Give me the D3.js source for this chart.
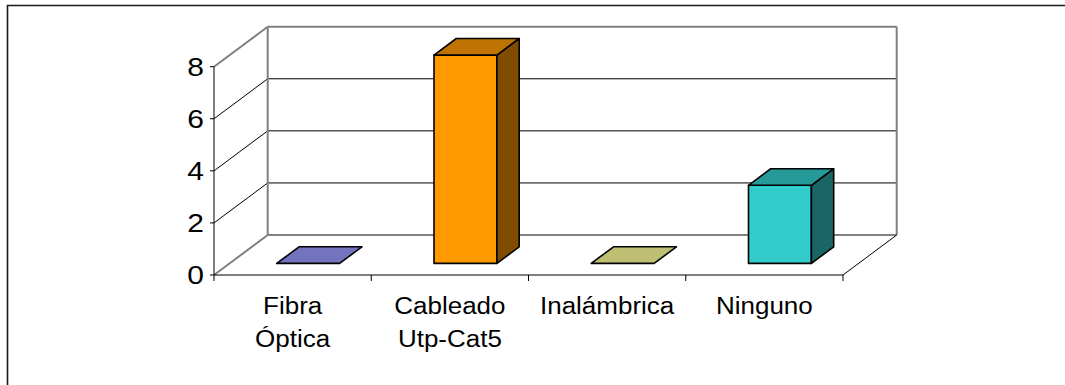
<!DOCTYPE html>
<html>
<head>
<meta charset="utf-8">
<script src="https://cdn.jsdelivr.net/npm/d3@7"></script>
<style>
  html, body { margin: 0; padding: 0; background: #fff; }
  svg { display: block; }
  text { font-family: "Liberation Sans", Arial, sans-serif; fill: #000; }
</style>
</head>
<body>
<svg id="chart" width="1065" height="385"></svg>
<script>
// Network type counts
const categories = [["Fibra", "Óptica"], ["Cableado", "Utp-Cat5"], ["Inalámbrica"], ["Ninguno"]];
const values = [0, 8, 0, 3];
const yTicks = [0, 2, 4, 6, 8];

// Bar face colours: front, top, side
const frontColors = ["#9999FF", "#FF9900", "#FFFF99", "#33CCCC"];
const topColors   = ["#7373BF", "#BF7300", "#BFBF73", "#269999"];
const sideColors  = ["#4D4D80", "#804D00", "#80804D", "#1A6666"];

const svg = d3.select("#chart");

// Front plane of the plot box
const x0 = 214, x1 = 843;
const yFront0 = 275, yFront8 = 66.7;
// Depth projection: full depth shifts right and up
const depthDX = 53.7, depthDY = -40;

const keys = categories.map(c => c.join(" "));
const x = d3.scaleBand().domain(keys).range([x0, x1]).paddingInner(0.6).paddingOuter(0.3);
const y = d3.scaleLinear().domain([0, 8]).range([yFront0, yFront8]);
const dx = d3.scaleLinear().domain([0, 1]).range([0, depthDX]);
const dy = d3.scaleLinear().domain([0, 1]).range([0, depthDY]);

// Project a point (px on front plane, value v, depth d)
const P = (px, v, d) => [px + dx(d), y(v) + dy(d)];
const pts = arr => arr.map(p => p.join(",")).join(" ");

const gray = "#808080";

// Outer frame
svg.append("path")
  .attr("d", "M7.5,390 L7.5,5.5 L1070,5.5")
  .attr("fill", "none").attr("stroke", "#1a1a1a").attr("stroke-width", 1.6);

const walls = svg.append("g");

// Back-wall and side-wall gridlines
yTicks.forEach(t => {
  const edge = (t === 0 || t === 8);
  const [bx, by] = P(x0, t, 1);
  const [ex] = P(x1, t, 1);
  // side wall diagonal
  walls.append("line")
    .attr("x1", x0).attr("y1", y(t)).attr("x2", bx).attr("y2", by)
    .attr("stroke", edge ? gray : "#000").attr("stroke-width", edge ? 2 : 1);
  // back wall horizontal
  walls.append("line")
    .attr("x1", bx).attr("y1", by).attr("x2", ex).attr("y2", by)
    .attr("stroke", edge ? gray : "#000").attr("stroke-width", edge ? 2 : 1);
});

// Back wall vertical edges
[x0, x1].forEach(px => {
  const [bx, byTop] = P(px, 8, 1);
  const [, byBot] = P(px, 0, 1);
  walls.append("line")
    .attr("x1", bx).attr("y1", byTop).attr("x2", bx).attr("y2", byBot)
    .attr("stroke", gray).attr("stroke-width", 2);
});

// Floor right diagonal
{
  const [bx, by] = P(x1, 0, 1);
  walls.append("line")
    .attr("x1", x1).attr("y1", y(0)).attr("x2", bx).attr("y2", by)
    .attr("stroke", "#000").attr("stroke-width", 1);
}

// Bars
const d0 = 0.29, d1 = 0.705;
const bars = svg.append("g");
values.forEach((v, i) => {
  const k = keys[i];
  const l = x(k), r = x(k) + x.bandwidth();
  const fbl = P(l, 0, d0), fbr = P(r, 0, d0), ftl = P(l, v, d0), ftr = P(r, v, d0);
  const btl = P(l, v, d1), btr = P(r, v, d1), bbr = P(r, 0, d1);
  const stroke = { stroke: "#000", "stroke-width": 1.6, "stroke-linejoin": "round" };
  const add = (points, fill) => {
    const p = bars.append("polygon").attr("points", pts(points)).attr("fill", fill);
    Object.entries(stroke).forEach(([a, b]) => p.attr(a, b));
  };
  if (v > 0) {
    add([fbl, fbr, ftr, ftl], frontColors[i]);
    add([fbr, bbr, btr, ftr], sideColors[i]);
  }
  add([ftl, ftr, btr, btl], topColors[i]);
});

// Front axes
const axes = svg.append("g");
axes.append("line").attr("x1", x0).attr("y1", y(0)).attr("x2", x1).attr("y2", y(0))
  .attr("stroke", "#000").attr("stroke-width", 1);
axes.append("line").attr("x1", x0).attr("y1", y(0)).attr("x2", x0).attr("y2", y(8))
  .attr("stroke", "#000").attr("stroke-width", 1);

// Category tick marks at band boundaries
const boundaries = keys.map(k => x(k) - x.step() * x.paddingInner() / 2).concat([x1]);
boundaries.forEach(bx => {
  axes.append("line").attr("x1", bx).attr("y1", y(0)).attr("x2", bx).attr("y2", y(0) + 6)
    .attr("stroke", "#000").attr("stroke-width", 1);
});

// Value ticks and labels
yTicks.forEach(t => {
  axes.append("line").attr("x1", x0 - 4).attr("y1", y(t)).attr("x2", x0).attr("y2", y(t))
    .attr("stroke", "#000").attr("stroke-width", 1);
  axes.append("text")
    .attr("transform", `translate(${x0 - 10},${y(t) + 9}) scale(1.2,1)`)
    .attr("text-anchor", "end")
    .style("font-size", "25px")
    .text(t);
});

// Category labels
categories.forEach((lines, i) => {
  const cx = x(keys[i]) + x.bandwidth() / 2;
  lines.forEach((line, j) => {
    axes.append("text")
      .attr("transform", `translate(${cx},${314 + j * 33}) scale(1.13,1)`)
      .attr("text-anchor", "middle")
      .style("font-size", "23px")
      .text(line);
  });
});
</script>
</body>
</html>
